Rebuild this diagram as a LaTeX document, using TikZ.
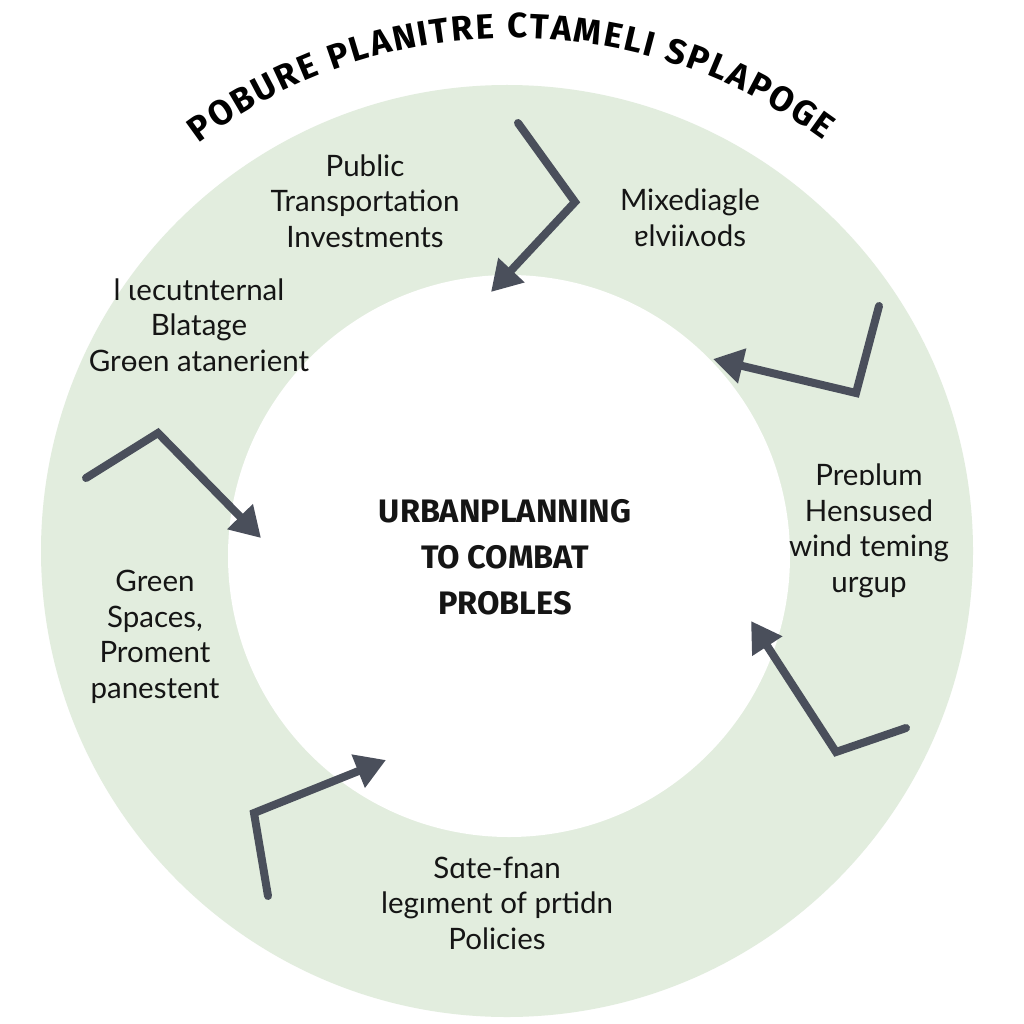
\documentclass[tikz,border=0pt]{standalone}
\usepackage{fontspec}
\setmainfont{Lato}
\newfontfamily\titlefont{Fira Sans}
\usetikzlibrary{arrows.meta,decorations.text}
\definecolor{ringgreen}{HTML}{E2EDDE}
\definecolor{arrowgray}{HTML}{4A4F5B}
\definecolor{txt}{HTML}{151515}
\tikzset{
  label/.style={align=center, text=txt, font=\fontsize{29.5}{35.5}\selectfont, inner sep=0pt},
  centerlabel/.style={align=center, text=txt, font=\titlefont\bfseries\fontsize{32.5}{46}\selectfont, inner sep=0pt},
  bent/.style={draw=arrowgray, line width=8pt, line cap=round, line join=miter,
    -{Triangle[length=30pt,width=34pt]}},
}
\begin{document}
\begin{tikzpicture}[x=1pt,y=-1pt]
\useasboundingbox (0,0) rectangle (1024,1024);
\fill[white] (0,0) rectangle (1024,1024);
% ring
\fill[ringgreen] (507,551) circle (466);
\fill[white] (509,556) circle (281);
% title along arc
\path[decorate, decoration={text along path, text align={fit to path},
  text={|\titlefont\bfseries\fontsize{35}{35}\selectfont|POBURE PLANITRE CTAMELI SPLAPOGE}}]
  (513,560) ++(-127:522) arc[start angle=-127, end angle=-53.5, radius=522];
% labels
\node[label] (pt) at (365,201) {Public\\Transportation\\Investments};
\node[label] (mx) at (690,218) {Mixediagle\\ɐlviiʌods};
\node[label] (ib) at (199,325) {l ɩecutnternal\\Blatage\\Grɵen atanerient};
\node[label] (ph) at (869,531) {Preɒlum\\Hensused\\wind teming\\urgup};
\node[label] (gs) at (155,637) {Green\\Spaces,\\Proment\\panestent};
\node[label] (sf) at (497,903) {Sɑte-fnan\\legıment of prtidn\\Policies};
\node[centerlabel] (ctr) at (505,557) {URBANPLANNING\\TO COMBAT\\PROBLES};
% arrow points
\coordinate (a1s) at (518,123); \coordinate (a1b) at (575,202); \coordinate (a1e) at (491,292);
\coordinate (a2s) at (879,306); \coordinate (a2b) at (856,393); \coordinate (a2e) at (713,359);
\coordinate (a3s) at (906,728); \coordinate (a3b) at (836,752); \coordinate (a3e) at (751,621);
\coordinate (a4s) at (268,896); \coordinate (a4b) at (254,813); \coordinate (a4e) at (386,760);
\coordinate (a5s) at (86,478); \coordinate (a5b) at (158,433); \coordinate (a5e) at (261,538);
\draw[bent] (a1s) -- (a1b) -- (a1e);
\draw[bent] (a2s) -- (a2b) -- (a2e);
\draw[bent] (a3s) -- (a3b) -- (a3e);
\draw[bent] (a4s) -- (a4b) -- (a4e);
\draw[bent] (a5s) -- (a5b) -- (a5e);
\end{tikzpicture}
\end{document}
